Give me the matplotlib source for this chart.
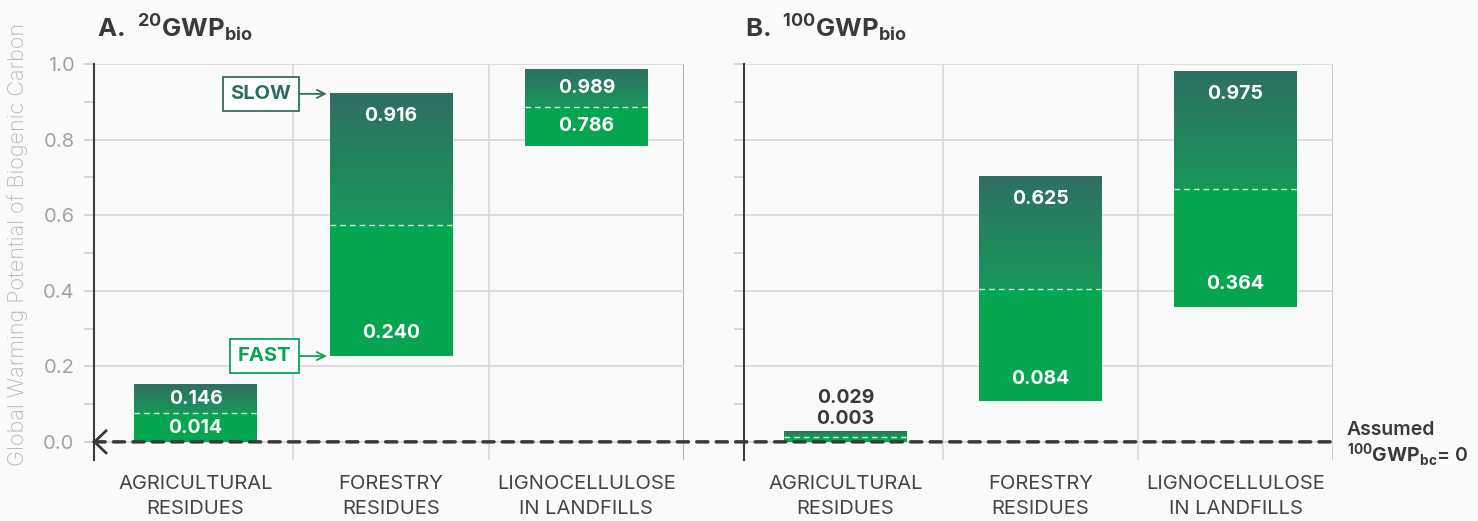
import numpy as np
import matplotlib
matplotlib.use("Agg")
import matplotlib.pyplot as plt
from matplotlib.patches import ConnectionPatch
from matplotlib.colors import to_rgb
from matplotlib.transforms import ScaledTranslation

# ---------------- data ----------------
categories = ["AGRICULTURAL\nRESIDUES", "FORESTRY\nRESIDUES", "LIGNOCELLULOSE\nIN LANDFILLS"]

# GWP20 (panel A): bar extent (fast -> slow) and printed labels
gwp20_low = [0.0, 0.227, 0.784]
gwp20_high = [0.151, 0.923, 0.987]
gwp20_fast_lbl = ["0.014", "0.240", "0.786"]
gwp20_slow_lbl = ["0.146", "0.916", "0.989"]

# GWP100 (panel B)
gwp100_low = [0.0, 0.107, 0.358]
gwp100_high = [0.027, 0.702, 0.981]
gwp100_fast_lbl = ["0.003", "0.084", "0.364"]
gwp100_slow_lbl = ["0.029", "0.625", "0.975"]

yticks_major = [0.0, 0.2, 0.4, 0.6, 0.8, 1.0]
ytick_labels = ["0.0", "0.2", "0.4", "0.6", "0.8", "1.0"]
yticks_minor = [0.1, 0.3, 0.5, 0.7, 0.9]

# ---------------- style ----------------
plt.rcParams['font.family'] = ['Inter', 'DejaVu Sans']
plt.rcParams['mathtext.fontset'] = 'custom'
plt.rcParams['mathtext.rm'] = 'Inter'
plt.rcParams['mathtext.bf'] = 'Inter:bold'

BG = '#fafafa'
TOP = '#2f6f63'
MID = '#17985a'
FASTC = '#06a650'
SLOWC = '#2e6e62'
DARK = '#3a3a3a'
GRID = '#d9d9d9'

W, H = 1478, 521
fig = plt.figure(figsize=(W / 100, H / 100), dpi=100, facecolor=BG)


def px_axes(l, t, r, b):
    return [l / W, 1 - b / H, (r - l) / W, (b - t) / H]


axA = fig.add_axes(px_axes(94, 64, 684, 460))
axB = fig.add_axes(px_axes(744, 64, 1333, 460))

XMIN, XMAX = -0.52, 2.5
YMIN, YMAX = -0.048, 1.0
BW = 0.626

c_top = np.array(to_rgb(TOP))
c_mid = np.array(to_rgb(MID))
c_fast = np.array(to_rgb(FASTC))


def draw_panel(ax, lows, highs, fast_lbl, slow_lbl, show_ylabels, right_col):
    ax.set_facecolor(BG)
    for s in ['top', 'right', 'bottom']:
        ax.spines[s].set_visible(False)
    ax.spines['left'].set_color('#3c3c3c')
    ax.spines['left'].set_linewidth(1.5)
    ax.set_yticks(yticks_major)
    ax.set_yticks(yticks_minor, minor=True)
    if show_ylabels:
        ax.set_yticklabels(ytick_labels, fontsize=14.5, color='#a3a3a3')
    ax.yaxis.grid(True, which='major', color=GRID, lw=1.2)
    ax.set_axisbelow(True)
    ax.tick_params(axis='y', which='both', length=7, color='#cfcfcf', width=1.2,
                   pad=7, labelleft=show_ylabels)
    ax.set_xticks([0, 1, 2])
    ax.set_xticklabels(categories, fontsize=14.5, color='#454545', linespacing=1.45)
    ax.tick_params(axis='x', length=0, pad=11)
    for xv in [0.5, 1.5]:
        ax.axvline(xv, color=GRID, lw=1.2, zorder=0.5)
    ax.axvline(2.5, color=right_col, lw=2, zorder=0.5)

    for i, (lo, hi) in enumerate(zip(lows, highs)):
        mid = (lo + hi) / 2
        n = 600
        ys = np.linspace(lo, hi, n)
        img = np.zeros((n, 1, 3))
        for k, yv in enumerate(ys):
            if yv < mid:
                img[k, 0] = c_fast
            else:
                f = (yv - mid) / (hi - mid) if hi > mid else 0
                img[k, 0] = c_mid * (1 - f) + c_top * f
        ax.imshow(img, extent=(i - BW / 2, i + BW / 2, lo, hi), origin='lower',
                  aspect='auto', interpolation='nearest', zorder=2)
        ax.plot([i - BW / 2, i + BW / 2], [mid, mid], color='white', lw=1,
                dashes=(4, 3), alpha=0.85, zorder=3)
        h = hi - lo
        if h < 0.06:
            ax.text(i, hi + 0.034, fast_lbl[i], ha='center', va='center', fontsize=14,
                    fontweight='bold', color=DARK, zorder=4)
            ax.text(i, hi + 0.089, slow_lbl[i], ha='center', va='center', fontsize=14,
                    fontweight='bold', color=DARK, zorder=4)
        else:
            off = min(0.06, h / 4)
            ax.text(i, hi - off, slow_lbl[i], ha='center', va='center', fontsize=14,
                    fontweight='bold', color='white', zorder=4)
            ax.text(i, lo + off, fast_lbl[i], ha='center', va='center', fontsize=14,
                    fontweight='bold', color='white', zorder=4)
    ax.set_xlim(XMIN, XMAX)
    ax.set_ylim(YMIN, YMAX)


draw_panel(axA, gwp20_low, gwp20_high, gwp20_fast_lbl, gwp20_slow_lbl, True, '#a9a9a9')
draw_panel(axB, gwp100_low, gwp100_high, gwp100_fast_lbl, gwp100_slow_lbl, False, '#c4c4c4')

# SLOW / FAST callouts
axA.annotate('SLOW', xy=(1 - BW / 2 - 0.015, gwp20_high[1] - 0.002), xytext=(0.49, gwp20_high[1] - 0.002),
             ha='right', va='center', fontsize=14.5, fontweight='bold', color=SLOWC,
             bbox=dict(boxstyle='square,pad=0.38', fc='white', ec=SLOWC, lw=1.3),
             arrowprops=dict(arrowstyle='->', color=SLOWC, lw=1.3, shrinkA=0, shrinkB=0,
                             relpos=(1, 0.5)), zorder=5)
axA.annotate('FAST', xy=(1 - BW / 2 - 0.015, gwp20_low[1]), xytext=(0.49, gwp20_low[1]),
             ha='right', va='center', fontsize=14.5, fontweight='bold', color=FASTC,
             bbox=dict(boxstyle='square,pad=0.38', fc='white', ec=FASTC, lw=1.3),
             arrowprops=dict(arrowstyle='->', color=FASTC, lw=1.3, shrinkA=0, shrinkB=0,
                             relpos=(1, 0.5)), zorder=5)

# zero reference dashed line spanning both panels
con = ConnectionPatch(xyA=(XMIN, 0), coordsA='data', axesA=axA,
                      xyB=(XMAX, 0), coordsB='data', axesB=axB,
                      color=DARK, lw=2.5, linestyle=(0, (3.2, 2.4)), zorder=6)
fig.add_artist(con)
# chevron at left end
tr = fig.dpi_scale_trans + ScaledTranslation(XMIN, 0, axA.transData)
axA.plot([0.12, 0.005, 0.12], [0.11, 0, -0.11], color=DARK, lw=2, transform=tr,
         clip_on=False, zorder=7, solid_joinstyle='miter')

# titles
fig.text(97 / W, 1 - 37 / H, r"A.  $\mathbf{{}^{20}GWP_{bio}}$", fontsize=18.5, fontweight='bold',
         color=DARK, va='baseline', ha='left')
fig.text(745 / W, 1 - 37 / H, r"B.  $\mathbf{{}^{100}GWP_{bio}}$", fontsize=18.5, fontweight='bold',
         color=DARK, va='baseline', ha='left')

# y label
fig.text(18 / W, 1 - 244 / H, 'Global Warming Potential of Biogenic Carbon', rotation=90,
         ha='center', va='center', fontsize=15.5, color='#b8b8b8', fontweight='light')

# assumed annotation
axB.text(2.571, 0.032, 'Assumed', ha='left', va='center', fontsize=14, fontweight='semibold',
         color=DARK, clip_on=False)
axB.text(2.571, -0.037, r'$\mathbf{{}^{100}GWP_{bc}}$= 0', ha='left', va='center', fontsize=14,
         fontweight='semibold', color=DARK, clip_on=False)

fig.savefig('out.png', dpi=100, facecolor=BG)
